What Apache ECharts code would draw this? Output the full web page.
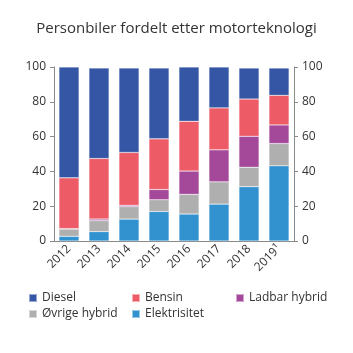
<!DOCTYPE html>
<html>
<head>
<meta charset="utf-8">
<script src="https://cdn.jsdelivr.net/npm/echarts@6/dist/echarts.min.js"></script>
<style>
  html, body { margin: 0; padding: 0; background: #fff; }
  #chart { width: 353px; height: 353px; }
</style>
</head>
<body>
<div id="chart"></div>
<script>
const years = ["2012", "2013", "2014", "2015", "2016", "2017", "2018", "2019¹"];
const elektrisitet = [2.7, 5.4, 12.6, 17.0, 15.5, 21.2, 31.2, 43.2];
const ovrigeHybrid = [4.2, 6.3, 7.1, 6.7, 11.3, 12.8, 11.2, 12.8];
const ladbarHybrid = [0.2, 0.9, 0.8, 5.9, 13.4, 18.4, 17.8, 10.7];
const bensin = [29.2, 34.8, 30.4, 29.1, 28.6, 24.1, 21.4, 17.0];
const diesel = [63.7, 52.0, 48.5, 40.7, 31.2, 23.5, 17.8, 15.7];
const yTicks = [0, 20, 40, 60, 80, 100];

const font = "'Open Sans', sans-serif";
const axisColor = "#8a8a8a";
const textColor = "#333";

function yAxis(position) {
  return {
    type: "value",
    position,
    min: yTicks[0],
    max: yTicks[yTicks.length - 1],
    interval: yTicks[1] - yTicks[0],
    axisLine: { show: true, lineStyle: { color: axisColor } },
    axisTick: { show: true, length: 4, lineStyle: { color: axisColor } },
    splitLine: { show: false },
    axisLabel: { color: textColor, fontFamily: font, fontSize: 12, margin: 8 },
  };
}

function bar(name, data, color) {
  return {
    name,
    type: "bar",
    stack: "total",
    data,
    barCategoryGap: "33%",
    itemStyle: { color, borderColor: "rgba(255,255,255,0.5)", borderWidth: 0.5 },
  };
}

const legendBase = {
  orient: "vertical",
  top: 292,
  padding: 0,
  itemWidth: 8,
  itemHeight: 8,
  itemGap: 4,
  icon: "rect",
  textStyle: { color: textColor, fontFamily: font, fontSize: 12 },
};

const chart = echarts.init(document.getElementById("chart"));
chart.setOption({
  animation: false,
  title: {
    text: "Personbiler fordelt etter motorteknologi",
    left: "center",
    top: 16,
    textStyle: { color: textColor, fontFamily: font, fontSize: 15, fontWeight: "normal" },
  },
  grid: { left: 54, right: 59, top: 67, bottom: 112 },
  xAxis: {
    type: "category",
    data: years,
    axisLine: { lineStyle: { color: axisColor } },
    axisTick: { show: false },
    axisLabel: { color: textColor, fontFamily: font, fontSize: 12, rotate: 45, margin: 6, interval: 0 },
  },
  yAxis: [yAxis("left"), yAxis("right")],
  legend: [
    { ...legendBase, left: 28, data: ["Diesel", "Øvrige hybrid"] },
    { ...legendBase, left: 131, data: ["Bensin", "Elektrisitet"] },
    { ...legendBase, left: 235, data: ["Ladbar hybrid"] },
  ],
  series: [
    bar("Elektrisitet", elektrisitet, "#3292d0"),
    bar("Øvrige hybrid", ovrigeHybrid, "#afafaf"),
    bar("Ladbar hybrid", ladbarHybrid, "#a4499a"),
    bar("Bensin", bensin, "#ec5b66"),
    bar("Diesel", diesel, "#3456a4"),
  ],
});
</script>
</body>
</html>
